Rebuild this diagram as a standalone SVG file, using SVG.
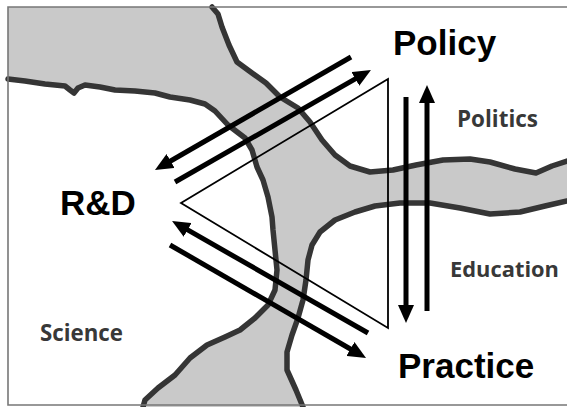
<svg xmlns="http://www.w3.org/2000/svg" width="567" height="407" viewBox="0 0 567 407">
<style>
.frame{fill:none;stroke:#777;stroke-width:1.6}
.shore{fill:none;stroke:#353535;stroke-width:5.5;stroke-linejoin:round;stroke-linecap:round}
.land{fill:#c9c9c9;stroke:none}
.tri{fill:none;stroke:#000;stroke-width:1.8;stroke-linejoin:miter}
.arr{fill:none;stroke:#000;stroke-width:5;marker-end:url(#ah)}
.big{font-family:"Liberation Sans",Arial,sans-serif;font-weight:700;font-size:35px;fill:#000}
.small{font-family:"Open Sans","Liberation Sans",sans-serif;font-weight:700;font-size:24px;fill:#383838}
</style>
<defs>
<marker id="ah" markerUnits="userSpaceOnUse" viewBox="0 0 18 16" markerWidth="18" markerHeight="16" refX="4" refY="8" orient="auto">
<path d="M0,0 L18,8 L0,16 Z" fill="#000"/>
</marker>
</defs>
<rect width="567" height="407" fill="#fff"/>
<g id="regions">
<path class="land" d="M8,7 L212,7 L218,14 L222,27 L229,45 L237,62 L252,73 L266,83 L280,97 L298,108 L310,122 L322,140 L335,155 L350,166 L370,172 L393,170 L416,165 L443,160 L470,159 L490,162 L515,169 L536,173 L552,166 L567,161 L567,201 L545,206 L520,212 L490,214 L460,208 L430,203 L400,203 L375,206 L355,212 L335,220 L320,232 L312,245 L308,260 L306,280 L303,300 L298,318 L292,335 L287,352 L287,370 L296,390 L303,407 L143,407 L145,400 L158,388 L175,375 L190,358 L207,345 L225,337 L240,330 L255,318 L268,305 L275,290 L277,270 L275,250 L273,230 L272,217 L268,197 L263,180 L257,167 L252,150 L245,138 L228,125 L215,111 L205,104 L190,100 L170,97 L155,93 L135,91 L115,90 L100,87 L85,85 L78,88 L74,93 L70,90 L65,86 L45,84 L25,81 L8,79 Z"/>
<path class="shore" d="M8,79 L25,81 L45,84 L65,86 L70,90 L74,93 L78,88 L85,85 L100,87 L115,90 L135,91 L155,93 L170,97 L190,100 L205,104 L215,111 L228,125 L245,138 L252,150 L257,167 L263,180 L268,197 L272,217 L273,230 L275,250 L277,270 L275,290 L268,305 L255,318 L240,330 L225,337 L207,345 L190,358 L175,375 L158,388 L145,400 L143,407"/>
<path class="shore" d="M212,7 L218,14 L222,27 L229,45 L237,62 L252,73 L266,83 L280,97 L298,108 L310,122 L322,140 L335,155 L350,166 L370,172 L393,170 L416,165 L443,160 L470,159 L490,162 L515,169 L536,173 L552,166 L567,161"/>
<path class="shore" d="M303,407 L296,390 L287,370 L287,352 L292,335 L298,318 L303,300 L306,280 L308,260 L312,245 L320,232 L335,220 L355,212 L375,206 L400,203 L430,203 L460,208 L490,214 L520,212 L545,206 L567,201"/>
</g>
<path class="frame" d="M567,7 L8,7 L8,405 L567,405"/>
<g id="triangle">
<polygon class="tri" points="388,79 181,203 388,328"/>
</g>
<g id="connectors">
<line class="arr" x1="351" y1="57" x2="167.1" y2="163"/>
<line class="arr" x1="175" y1="182" x2="358.8" y2="76.9"/>
<line class="arr" x1="368" y1="333" x2="184.2" y2="227.9"/>
<line class="arr" x1="170" y1="245" x2="353.9" y2="351"/>
<line class="arr" x1="406" y1="97" x2="406" y2="309"/>
<line class="arr" x1="427" y1="311" x2="427" y2="99"/>
</g>
<g id="node-rd"><text class="big" x="60" y="215">R&amp;D</text></g>
<g id="node-policy"><text class="big" x="393" y="55">Policy</text></g>
<g id="node-practice"><text class="big" x="398" y="378">Practice</text></g>
<g id="label-politics"><text class="small" x="457" y="127" textLength="81" lengthAdjust="spacingAndGlyphs">Politics</text></g>
<g id="label-education"><text class="small" x="450" y="277" style="font-size:21px" textLength="109" lengthAdjust="spacingAndGlyphs">Education</text></g>
<g id="label-science"><text class="small" x="40" y="341" textLength="83" lengthAdjust="spacingAndGlyphs">Science</text></g>
</svg>
